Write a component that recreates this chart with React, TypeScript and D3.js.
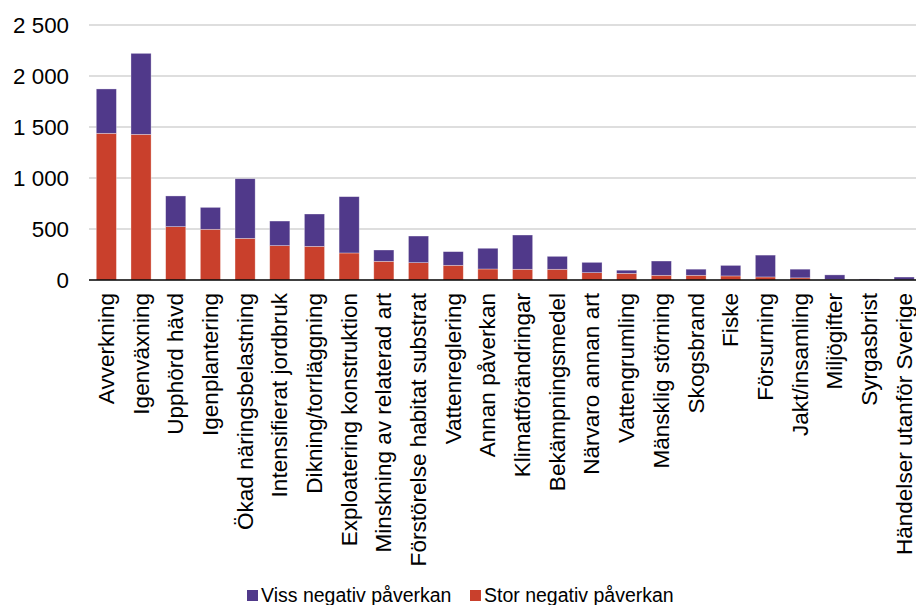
import React from "react";
import * as d3 from "d3";

// Hotfaktorer: antal bedömningar med stor respektive viss negativ påverkan
const categories: string[] = [
  "Avverkning",
  "Igenväxning",
  "Upphörd hävd",
  "Igenplantering",
  "Ökad näringsbelastning",
  "Intensifierat jordbruk",
  "Dikning/torrläggning",
  "Exploatering konstruktion",
  "Minskning av relaterad art",
  "Förstörelse habitat substrat",
  "Vattenreglering",
  "Annan påverkan",
  "Klimatförändringar",
  "Bekämpningsmedel",
  "Närvaro annan art",
  "Vattengrumling",
  "Mänsklig störning",
  "Skogsbrand",
  "Fiske",
  "Försurning",
  "Jakt/insamling",
  "Miljögifter",
  "Syrgasbrist",
  "Händelser utanför Sverige",
];

const storNegativ: number[] = [
  1438, 1428, 523, 497, 408, 337, 330, 265, 183, 170, 144, 108, 105, 105, 72,
  65, 46, 46, 40, 30, 21, 6, 3, 2,
];

const vissNegativ: number[] = [
  435, 794, 301, 215, 585, 241, 317, 552, 111, 261, 134, 203, 336, 127, 101,
  31, 140, 60, 103, 214, 85, 44, 7, 27,
];

const yTicks: number[] = [0, 500, 1000, 1500, 2000, 2500];

const seriesNames: string[] = ["Viss negativ påverkan", "Stor negativ påverkan"];
const seriesColors: string[] = ["#50398a", "#c9402c"];

const W = 916;
const H = 605;
const FONT = "'Liberation Sans', Arial, Helvetica, sans-serif";

const fmt = (v: number) => d3.format(",")(v).replace(/,/g, " ");

export default function App() {
  const x = d3
    .scaleBand<string>()
    .domain(categories)
    .range([89, 921.5])
    .paddingInner(0.42)
    .paddingOuter(0.21);
  const y = d3.scaleLinear().domain([0, 2500]).range([280, 25]);

  const rows = categories.map((c, i) => ({
    cat: c,
    stor: storNegativ[i],
    viss: vissNegativ[i],
  }));
  const stack = d3.stack<any>().keys(["stor", "viss"])(rows);
  const colorFor: Record<string, string> = {
    stor: seriesColors[1],
    viss: seriesColors[0],
  };

  return (
    <svg
      width={W}
      height={H}
      style={{ position: "absolute", left: 0, top: 0, background: "#fff" }}
    >
      {/* horisontella stödlinjer */}
      {yTicks
        .filter((t) => t > 0)
        .map((t) => (
          <line
            key={t}
            x1={89}
            x2={W}
            y1={y(t)}
            y2={y(t)}
            stroke="#bdbdbd"
            strokeWidth={1}
          />
        ))}

      {/* staplar */}
      {stack.map((layer) =>
        layer.map((d, i) => (
          <rect
            key={layer.key + i}
            x={x(categories[i])}
            width={x.bandwidth()}
            y={y(d[1])}
            height={Math.max(0, y(d[0]) - y(d[1]))}
            fill={colorFor[layer.key]}
            stroke="#ffffff"
            strokeOpacity={0.45}
            strokeWidth={0.7}
          />
        ))
      )}

      {/* nollinje */}
      <line x1={89} x2={W} y1={y(0)} y2={y(0)} stroke="#000" strokeWidth={1.5} />

      {/* y-axelns etiketter */}
      {yTicks.map((t) => (
        <text
          key={t}
          transform={`translate(69,${y(t)}) scale(1.04,1)`}
          dy="0.36em"
          textAnchor="end"
          fontFamily={FONT}
          fontSize={21.5}
          fill="#000"
        >
          {fmt(t)}
        </text>
      ))}

      {/* kategorietiketter, roterade */}
      {categories.map((c) => {
        const cx = (x(c) as number) + x.bandwidth() / 2;
        return (
          <text
            key={c}
            transform={`translate(${cx + 7.5},293) rotate(-90) scale(1.05,1)`}
            textAnchor="end"
            fontFamily={FONT}
            fontSize={21.5}
            fill="#000"
          >
            {c}
          </text>
        );
      })}

      {/* teckenförklaring */}
      {seriesNames.map((name, i) => {
        const lx = i === 0 ? 247 : 470;
        return (
          <g key={name}>
            <rect x={lx} y={590} width={11} height={11} fill={seriesColors[i]} />
            <text
              x={lx + 14}
              y={602}
              fontFamily={FONT}
              fontSize={19.5}
              fill="#000"
            >
              {name}
            </text>
          </g>
        );
      })}
    </svg>
  );
}
